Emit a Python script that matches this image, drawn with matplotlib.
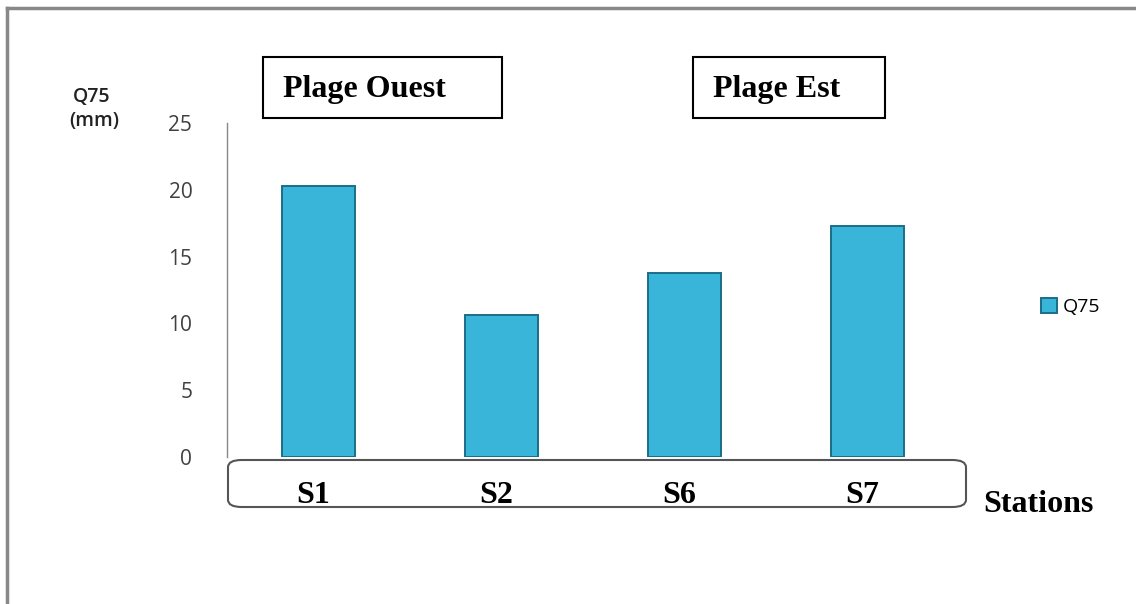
import matplotlib
matplotlib.use('Agg')
import matplotlib.pyplot as plt
import matplotlib.transforms as mtransforms
from matplotlib.patches import Rectangle, FancyBboxPatch
from matplotlib.lines import Line2D

# data
stations = ['S1', 'S2', 'S6', 'S7']
q75 = [20.3, 10.6, 13.8, 17.3]
yticks = [0, 5, 10, 15, 20, 25]

W, H = 1136, 604
fig = plt.figure(figsize=(W / 100, H / 100), dpi=100)

def fx(px):
    return px / W

def fy(py):
    return 1 - py / H

serif = 'Liberation Serif'
sans = 'Open Sans'

ax = fig.add_axes([fx(227), fy(457), fx(959) - fx(227), fy(123) - fy(457)])
x = list(range(len(stations)))
bars = ax.bar(x, q75, width=0.4, color='#38b5d9', edgecolor='#1a6f88',
              linewidth=1.4, label='Q75', zorder=3)

ax.set_xlim(-0.5, len(stations) - 0.5)
ax.set_ylim(0, 25)
ax.set_yticks(yticks)
ax.set_yticklabels([str(t) for t in yticks], fontsize=15, family=sans, color='#404040')
ax.tick_params(axis='y', length=0, pad=25)
ax.set_xticks([])
for s in ['top', 'right', 'bottom']:
    ax.spines[s].set_visible(False)
ax.spines['left'].set_color('#888888')
ax.spines['left'].set_linewidth(1.0)

# category box under the axis
box = FancyBboxPatch((fx(228), fy(507)), fx(966) - fx(228), fy(460) - fy(507),
                     boxstyle='round,pad=0,rounding_size=0.012',
                     transform=fig.transFigure, facecolor='white',
                     edgecolor='#555555', linewidth=1.5, zorder=5)
fig.patches.append(box)
trans = mtransforms.blended_transform_factory(ax.transData, fig.transFigure)
for i, s in enumerate(stations):
    fig.text(i - 0.03, fy(503), s, transform=trans, ha='center', va='baseline',
             fontsize=23, fontweight='bold', family=serif, zorder=6)

fig.text(fx(983), fy(512), 'Stations', ha='left', va='baseline',
         fontsize=23, fontweight='bold', family=serif)

# zone boxes
for label, x0, x1, tx in [('Plage Ouest', 263, 502, 283), ('Plage Est', 693, 885, 713)]:
    fig.patches.append(Rectangle((fx(x0), fy(118)), fx(x1) - fx(x0), fy(57) - fy(118),
                                 transform=fig.transFigure, facecolor='white',
                                 edgecolor='black', linewidth=1.5))
    fig.text(fx(tx), fy(97), label, ha='left', va='baseline',
             fontsize=23, fontweight='bold', family=serif)

# y label
fig.text(fx(92), fy(97), 'Q75', ha='center', va='center', fontsize=14,
         family=sans, fontweight='semibold', color='#222222')
fig.text(fx(94), fy(121), '(mm)', ha='center', va='center', fontsize=14,
         family=sans, fontweight='semibold', color='#222222')

ax.legend(loc='center left', bbox_to_anchor=(fx(1041), fy(307)),
          bbox_transform=fig.transFigure, frameon=False, handlelength=0.8,
          handleheight=0.8, handletextpad=0.3, borderpad=0, borderaxespad=0,
          prop={'family': sans, 'size': 14})

# outer frame (left and top only visible)
fig.lines.append(Line2D([fx(7), fx(7)], [0, fy(8)], transform=fig.transFigure,
                        color='#888888', linewidth=2.5))
fig.lines.append(Line2D([fx(7), 1], [fy(8), fy(8)], transform=fig.transFigure,
                        color='#888888', linewidth=2.5))

fig.savefig('out.png', dpi=100)
